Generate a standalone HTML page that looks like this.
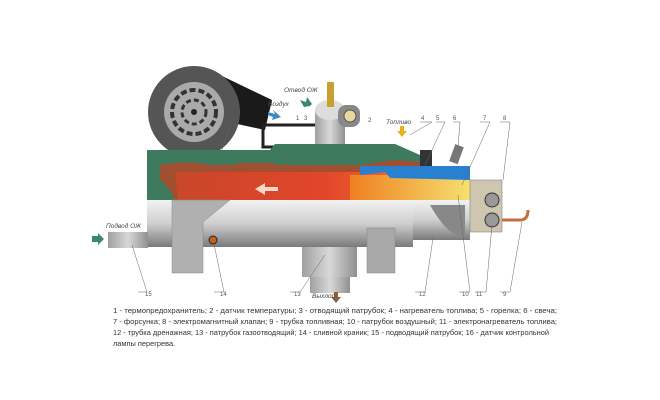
<!DOCTYPE html>
<html><head><meta charset="utf-8"><style>
body{margin:0;background:#fff;width:660px;height:400px;overflow:hidden}
svg{display:block}
text{font-family:"Liberation Sans",sans-serif}
.l{font-size:6px;fill:#555}
.c{font-size:7.4px;fill:#333}
.i{font-size:6.5px;fill:#444;font-style:italic}
</style></head><body>
<svg width="660" height="400" viewBox="0 0 660 400">
<defs>
<linearGradient id="sil" x1="0" y1="0" x2="0" y2="1"><stop offset="0" stop-color="#f2f2f2"/><stop offset="0.5" stop-color="#cfcfcf"/><stop offset="1" stop-color="#7a7a7a"/></linearGradient>
<linearGradient id="red" x1="0" y1="0" x2="1" y2="0"><stop offset="0" stop-color="#c8472a"/><stop offset="0.6" stop-color="#e2452a"/><stop offset="1" stop-color="#f07030"/></linearGradient>
<linearGradient id="fl" x1="0" y1="0" x2="1" y2="0"><stop offset="0" stop-color="#f08020"/><stop offset="1" stop-color="#f5e070"/></linearGradient>
<linearGradient id="gr" x1="0" y1="0" x2="1" y2="0"><stop offset="0" stop-color="#a0a0a0"/><stop offset="0.5" stop-color="#d8d8d8"/><stop offset="1" stop-color="#909090"/></linearGradient>
</defs>
<!-- fan -->
<path d="M222 76 L272 100 L265 130 L228 122Z" fill="#1a1a1a"/>
<circle cx="194" cy="112" r="46" fill="#555"/>
<circle cx="194" cy="112" r="30" fill="#aaa"/>
<circle cx="194" cy="112" r="22" fill="none" stroke="#333" stroke-width="4" stroke-dasharray="6 3"/>
<circle cx="194" cy="112" r="12" fill="none" stroke="#333" stroke-width="3" stroke-dasharray="5 3"/>
<circle cx="194" cy="112" r="3" fill="#222"/>
<!-- bracket top -->
<rect x="263" y="125" width="55" height="22" fill="none" stroke="#222" stroke-width="3"/>
<!-- outlet pipe -->
<rect x="315" y="110" width="30" height="40" fill="url(#gr)"/>
<ellipse cx="330" cy="110" rx="15" ry="10" fill="#ddd"/>
<rect x="338" y="105" width="22" height="22" rx="8" fill="#888"/>
<circle cx="350" cy="116" r="6" fill="#e8d8a0" stroke="#555"/>
<rect x="327" y="82" width="7" height="25" fill="#c8a030"/>
<!-- green body -->
<path d="M147 150 L270 150 L275 144 L395 144 L420 155 L420 200 L147 200Z" fill="#3d7a5e"/>
<path d="M160 165 Q190 160 210 165 L360 165 L395 160 L420 162 L420 200 L175 200 Q168 185 160 180Z" fill="#a05030"/>
<path d="M175 172 L410 172 L420 175 L420 200 L178 200Z" fill="url(#red)"/>
<rect x="236" y="163" width="40" height="7" rx="3" fill="#a05030"/>
<polygon points="255,189 265,183 265,187 278,187 278,191 265,191 265,195" fill="#fbd8c8"/>
<!-- burner -->
<rect x="420" y="150" width="12" height="50" fill="#333"/>
<path d="M350 175 L385 175 L470 170 L470 200 L350 200Z" fill="url(#fl)"/>
<path d="M360 166 L470 166 L470 180 L390 178 L385 172 L360 175Z" fill="#2a80d0"/>
<rect x="452" y="145" width="9" height="18" fill="#777" transform="rotate(20 456 154)"/>
<!-- silver cylinder -->
<rect x="147" y="200" width="266" height="47" fill="url(#sil)"/>
<rect x="413" y="200" width="57" height="40" fill="url(#sil)"/>
<path d="M430 205 Q450 240 465 235 L465 205Z" fill="#888"/>
<rect x="108" y="232" width="40" height="16" fill="url(#gr)"/>
<polygon points="92,236 98,236 98,233 104,239 98,245 98,242 92,242" fill="#3a8a6a"/>
<path d="M172 200 L230 200 L203 222 L203 273 L172 273Z" fill="#b0b0b0" stroke="#888" stroke-width="0.5"/>
<rect x="367" y="228" width="28" height="45" fill="#a8a8a8" stroke="#888" stroke-width="0.5"/>
<rect x="302" y="247" width="55" height="30" fill="url(#gr)"/>
<rect x="310" y="277" width="40" height="16" fill="url(#gr)"/>
<polygon points="334,292 338,292 338,297 341,297 336,303 331,297 334,297" fill="#8a6040"/>
<circle cx="213" cy="240" r="4" fill="#c06020" stroke="#222"/>
<!-- valve -->
<rect x="470" y="180" width="32" height="52" fill="#cfc6b0" stroke="#777" stroke-width="0.5"/>
<circle cx="492" cy="200" r="7" fill="#999" stroke="#333"/>
<circle cx="492" cy="220" r="7" fill="#999" stroke="#333"/>
<path d="M502 220 L520 220 Q528 220 528 210" stroke="#c07040" stroke-width="3" fill="none"/>
<!-- arrows -->
<polygon points="400,126 404,126 404,131 407,131 402,137 397,131 400,131" fill="#e8b020"/>
<polygon points="268,112 275,114 273,110 281,117 272,120 273,117 268,115" fill="#3a8ac0"/>
<polygon points="304,107 300,100 306,102 307,97 312,104 310,106" fill="#3a8a6a"/>
<!-- labels -->
<g class="i"><text x="284" y="92">Отвод ОЖ</text><text x="268" y="106">Воздух</text><text x="386" y="124">Топливо</text><text x="106" y="228">Подвод ОЖ</text><text x="312" y="298">Выхлоп</text></g>
<g class="l"><text x="232" y="124">16</text><text x="296" y="120">1</text><text x="304" y="120">3</text><text x="368" y="122">2</text><text x="421" y="120">4</text><text x="436" y="120">5</text><text x="453" y="120">6</text><text x="483" y="120">7</text><text x="503" y="120">8</text>
<text x="145" y="296">15</text><text x="220" y="296">14</text><text x="294" y="296">13</text><text x="419" y="296">12</text><text x="462" y="296">10</text><text x="476" y="296">11</text><text x="503" y="296">9</text></g>
<g stroke="#666" stroke-width="0.5" fill="none">
<path d="M138 292 L147 292 L132 245"/><path d="M214 292 L224 292 L214 244"/><path d="M290 292 L300 292 L325 255"/><path d="M415 292 L425 292 L433 238"/><path d="M459 292 L470 292 L458 195"/><path d="M475 292 L486 292 L492 225"/><path d="M500 292 L510 292 L522 222"/>
<path d="M230 126 L222 150"/><path d="M420 122 L432 122 L410 135"/><path d="M436 122 L445 122 L425 165"/><path d="M453 122 L460 122 L458 148"/><path d="M480 122 L490 122 L462 185"/><path d="M500 122 L510 122 L503 180"/>
</g>
<!-- caption -->
<g class="c">
<text x="113" y="313" textLength="444" lengthAdjust="spacingAndGlyphs">1 - термопредохранитель;   2 - датчик  температуры;   3 - отводящий  патрубок;   4 - нагреватель  топлива;    5 - горелка;  6 - свеча;</text>
<text x="113" y="324" textLength="444" lengthAdjust="spacingAndGlyphs">7 - форсунка;  8 - электромагнитный  клапан;  9 - трубка  топливная;  10 - патрубок  воздушный;  11 - электронагреватель топлива;</text>
<text x="113" y="335" textLength="436" lengthAdjust="spacingAndGlyphs">12 - трубка дренажная;   13 - патрубок газоотводящий;   14 - сливной краник;   15 - подводящий  патрубок;  16 - датчик контрольной</text>
<text x="113" y="346">лампы перегрева.</text>
</g>
</svg>
</body></html>
